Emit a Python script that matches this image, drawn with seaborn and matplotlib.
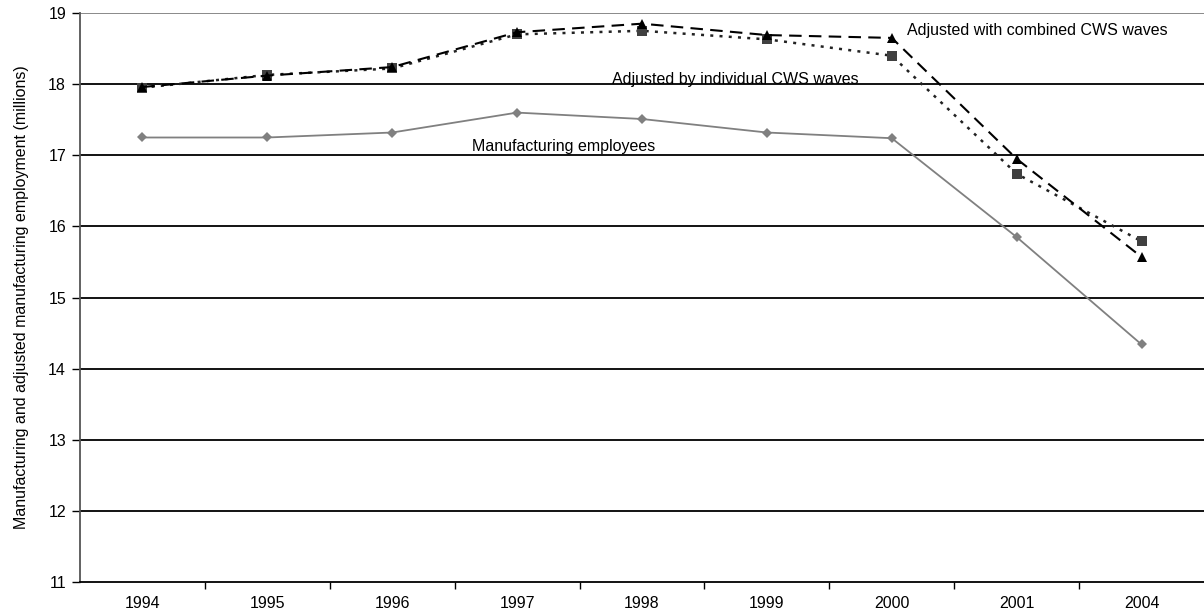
"""
Manufacturing employment, raw and adjusted by CWS waves
"""
import matplotlib
matplotlib.use('Agg')
import matplotlib.pyplot as plt
import matplotlib.ticker as mticker
import pandas as pd
import seaborn as sns

years = ['1994', '1995', '1996', '1997', '1998', '1999', '2000', '2001', '2004']
manufacturing = [17.25, 17.25, 17.32, 17.60, 17.51, 17.32, 17.24, 15.85, 14.34]
adjusted_combined = [17.96, 18.12, 18.24, 18.73, 18.85, 18.69, 18.65, 16.95, 15.57]
adjusted_individual = [17.95, 18.13, 18.22, 18.70, 18.75, 18.63, 18.40, 16.74, 15.79]

y_ticks = [11, 12, 13, 14, 15, 16, 17, 18, 19]
y_label = 'Manufacturing and adjusted manufacturing employment (millions)'


def main():
    sns.set_theme(style='white')
    plt.rcParams['font.family'] = ['Liberation Sans', 'DejaVu Sans']
    plt.rcParams['text.color'] = 'black'
    plt.rcParams['axes.labelcolor'] = 'black'
    plt.rcParams['xtick.color'] = 'black'
    plt.rcParams['ytick.color'] = 'black'

    df = pd.DataFrame({'year': years,
                       'manufacturing': manufacturing,
                       'combined': adjusted_combined,
                       'individual': adjusted_individual})
    df['pos'] = range(len(df))

    fig = plt.figure(figsize=(12.04, 6.14), dpi=100)
    ax = fig.add_axes([0.0664, 0.052, 0.9336, 0.9268])

    # gridlines first so lines sit on top
    for v in y_ticks[1:-1]:
        ax.axhline(v, color='black', lw=1.3, zorder=1)
    ax.axhline(y_ticks[-1], color='#808080', lw=1.3, zorder=1)

    sns.lineplot(data=df, x='pos', y='manufacturing', ax=ax, color='#808080', lw=1.3,
                 marker='D', markersize=5, markeredgewidth=0, zorder=3)
    sns.lineplot(data=df, x='pos', y='individual', ax=ax, color='#222222', lw=1.8,
                 marker='s', markersize=7, markeredgewidth=0, markerfacecolor='#404040',
                 zorder=4)
    ax.lines[-1].set_dashes([1.2, 2.5])
    sns.lineplot(data=df, x='pos', y='combined', ax=ax, color='black', lw=1.5,
                 marker='^', markersize=7, markeredgewidth=0, zorder=5)
    ax.lines[-1].set_dashes([6, 3.5])

    ax.text(6.12, 18.76, 'Adjusted with combined CWS waves', fontsize=11.5, va='center')
    ax.text(3.76, 18.07, 'Adjusted by individual CWS waves', fontsize=11.5, va='center')
    ax.text(2.64, 17.12, 'Manufacturing employees', fontsize=11.5, va='center')

    ax.set_xlim(-0.5, len(years) - 0.5)
    ax.set_ylim(y_ticks[0], y_ticks[-1])
    ax.set_yticks(y_ticks)
    ax.set_xticks(df['pos'])
    ax.set_xticklabels(years)
    ax.xaxis.set_minor_locator(mticker.FixedLocator([p + 0.5 for p in range(len(years) - 1)]))
    ax.tick_params(axis='x', which='major', length=0, pad=10, labelsize=11.5)
    ax.tick_params(axis='x', which='minor', length=5, width=1, color='black', bottom=True)
    ax.tick_params(axis='y', length=6, width=1, color='black', left=True, labelsize=11.5, pad=4)

    ax.set_xlabel('')
    ax.set_ylabel(y_label, fontsize=11.5, labelpad=14)

    for side in ['top', 'right']:
        ax.spines[side].set_visible(False)
    ax.spines['left'].set_color('#555555')
    ax.spines['left'].set_linewidth(1.3)
    ax.spines['bottom'].set_color('black')
    ax.spines['bottom'].set_linewidth(1.3)

    fig.savefig('out.png', dpi=100)


if __name__ == '__main__':
    main()
